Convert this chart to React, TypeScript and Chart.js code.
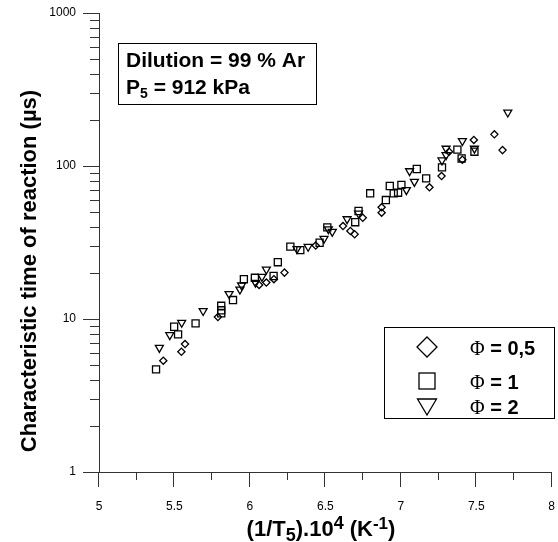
import React, { useEffect, useRef } from "react";
import { Chart, registerables } from "chart.js";

Chart.register(...registerables);

// ---- data ----
const phi05X = [5.426, 5.546, 5.57, 5.788, 6.061, 6.109, 6.159, 6.229, 6.436, 6.617, 6.666, 6.694, 6.748, 6.873, 6.873, 7.19, 7.27, 7.32, 7.408, 7.484, 7.62, 7.674];
const phi05Y = [5.34, 6.11, 6.86, 10.3, 16.7, 17.3, 18.2, 20.1, 30.2, 40.5, 37.6, 35.8, 45.9, 53.7, 49.5, 72.6, 86, 124, 110, 148, 161, 127];

const phi1X = [5.378, 5.524, 5.498, 5.64, 5.81, 5.81, 5.81, 5.888, 5.96, 6.033, 6.157, 6.185, 6.268, 6.334, 6.462, 6.513, 6.698, 6.72, 6.797, 6.901, 6.927, 6.953, 6.982, 7.004, 7.106, 7.168, 7.273, 7.375, 7.403, 7.488];
const phi1Y = [4.69, 7.94, 8.9, 9.37, 12.2, 11.4, 10.9, 13.3, 18.2, 18.6, 19.1, 23.5, 29.7, 28.2, 31.5, 39.7, 42.9, 50.8, 66.3, 59.9, 74, 66.3, 66.9, 75.2, 95.6, 83, 98, 128, 112, 124];

const phi2X = [5.4, 5.469, 5.548, 5.69, 5.862, 5.934, 5.945, 6.037, 6.08, 6.109, 6.312, 6.386, 6.491, 6.52, 6.546, 6.644, 6.72, 7.037, 7.058, 7.09, 7.273, 7.3, 7.3, 7.408, 7.488, 7.709];
const phi2Y = [6.49, 7.86, 9.46, 11.3, 14.6, 15.6, 16.6, 17.3, 18.9, 21.1, 28.7, 29.7, 33.5, 38.7, 37.2, 45, 49, 69.7, 92.7, 78.9, 109, 118, 130, 146, 130, 224];

const seriesValueLabels = ["0,5", "1", "2"];
const seriesLabels = seriesValueLabels.map((v) => "Φ = " + v);
const xTickValues = [5, 5.5, 6, 6.5, 7, 7.5, 8];
const xTickLabels = ["5", "5.5", "6", "6.5", "7", "7.5", "8"];
const xMinorValues = [5.25, 5.75, 6.25, 6.75, 7.25, 7.75];
const yTickValues = [1, 10, 100, 1000];
const yTickLabels = ["1", "10", "100", "1000"];
const yMinorMultipliers = [2, 3, 4, 5, 6, 7, 8, 9];

const FONT = "'Liberation Sans', Arial, Helvetica, sans-serif";
const SERIF = "'Liberation Serif', 'Times New Roman', serif";
const AXIS_COLOR = "#333";

function toPoints(xs: number[], ys: number[]) {
  return xs.map((x, i) => ({ x, y: ys[i] }));
}

type Run = { t: string; size: number; dy: number; font?: string };

function drawRuns(ctx: CanvasRenderingContext2D, runs: Run[], x: number, y: number, align: "left" | "center") {
  const f = (r: Run) => r.font ?? `bold ${r.size}px ${FONT}`;
  let total = 0;
  for (const r of runs) {
    ctx.font = f(r);
    total += ctx.measureText(r.t).width;
  }
  let cx = align === "center" ? x - total / 2 : x;
  ctx.textAlign = "left";
  ctx.textBaseline = "alphabetic";
  for (const r of runs) {
    ctx.font = f(r);
    ctx.fillText(r.t, cx, y + r.dy);
    cx += ctx.measureText(r.t).width;
  }
}

const overlay = {
  id: "overlay",
  afterDraw(chart: any) {
    const ctx: CanvasRenderingContext2D = chart.ctx;
    const xs = chart.scales.x;
    const ys = chart.scales.y;
    const { left, bottom } = chart.chartArea;
    ctx.save();
    ctx.strokeStyle = AXIS_COLOR;
    ctx.lineWidth = 1;
    ctx.beginPath();
    for (const v of xTickValues) {
      const p = Math.round(xs.getPixelForValue(v)) - 0.5;
      ctx.moveTo(p, bottom);
      ctx.lineTo(p, bottom + 15);
    }
    for (const v of xMinorValues) {
      const p = Math.round(xs.getPixelForValue(v)) - 0.5;
      ctx.moveTo(p, bottom);
      ctx.lineTo(p, bottom + 8);
    }
    for (const v of yTickValues) {
      const p = Math.round(ys.getPixelForValue(v)) + 0.5;
      ctx.moveTo(left - 16, p);
      ctx.lineTo(left, p);
      if (v < 1000) {
        for (const m of yMinorMultipliers) {
          const q = Math.round(ys.getPixelForValue(v * m)) + 0.5;
          ctx.moveTo(left - 9, q);
          ctx.lineTo(left, q);
        }
      }
    }
    ctx.stroke();

    ctx.fillStyle = "#000";
    // x axis title
    drawRuns(
      ctx,
      [
        { t: "(1/T", size: 22, dy: 0 },
        { t: "5", size: 18, dy: 5 },
        { t: ").10", size: 22, dy: 0 },
        { t: "4", size: 18, dy: -7 },
        { t: " (K", size: 22, dy: 0 },
        { t: "-1", size: 17, dy: -7 },
        { t: ")", size: 22, dy: 0 },
      ],
      321,
      536,
      "center"
    );

    // y axis title
    ctx.save();
    ctx.translate(30, 271);
    ctx.rotate(-Math.PI / 2);
    ctx.font = `bold 22px ${FONT}`;
    ctx.textAlign = "center";
    ctx.textBaseline = "middle";
    ctx.fillText("Characteristic time of reaction (µs)", 0, 0);
    ctx.restore();

    // annotation box
    ctx.strokeStyle = "#000";
    ctx.lineWidth = 1;
    ctx.strokeRect(118.5, 43.5, 198, 61);
    drawRuns(ctx, [{ t: "Dilution = 99 % Ar", size: 21, dy: 0 }], 126, 67, "left");
    drawRuns(
      ctx,
      [
        { t: "P", size: 21, dy: 0 },
        { t: "5", size: 14, dy: 4 },
        { t: " = 912 kPa", size: 21, dy: 0 },
      ],
      126,
      94,
      "left"
    );

    // legend box
    ctx.strokeRect(384.5, 327.5, 170, 91);
    ctx.lineWidth = 1.3;
    const mx = 427;
    const rows = [347, 381, 406];
    // diamond
    ctx.beginPath();
    ctx.moveTo(mx - 10, rows[0]);
    ctx.lineTo(mx, rows[0] - 10);
    ctx.lineTo(mx + 10, rows[0]);
    ctx.lineTo(mx, rows[0] + 10);
    ctx.closePath();
    ctx.stroke();
    // square
    ctx.strokeRect(mx - 8, rows[1] - 8, 16, 16);
    // down triangle
    ctx.beginPath();
    ctx.moveTo(mx - 9.5, rows[2] - 7);
    ctx.lineTo(mx + 9.5, rows[2] - 7);
    ctx.lineTo(mx, rows[2] + 9);
    ctx.closePath();
    ctx.stroke();
    for (let i = 0; i < seriesValueLabels.length; i++) {
      drawRuns(
        ctx,
        [
          { t: "Φ", size: 20, dy: 0, font: `20px ${SERIF}` },
          { t: " = " + seriesValueLabels[i], size: 20, dy: 0 },
        ],
        470,
        rows[i] + 8,
        "left"
      );
    }
    ctx.restore();
  },
};

export default function App() {
  const ref = useRef<HTMLCanvasElement | null>(null);
  useEffect(() => {
    document.body.style.margin = "0";
    const canvas = ref.current!;
    const common = {
      showLine: false,
      borderColor: "#000",
      pointBorderColor: "#000",
      pointBackgroundColor: "rgba(0,0,0,0)",
      pointBorderWidth: 1.3,
      pointHoverRadius: 5,
    };
    const chart = new Chart(canvas, {
      type: "scatter",
      data: {
        datasets: [
          { ...common, label: seriesLabels[0], data: toPoints(phi05X, phi05Y), pointStyle: "rectRot", pointRadius: 3.6 },
          { ...common, label: seriesLabels[1], data: toPoints(phi1X, phi1Y), pointStyle: "rect", pointRadius: 5 },
          { ...common, label: seriesLabels[2], data: toPoints(phi2X, phi2Y), pointStyle: "triangle", rotation: 180, pointRadius: 4.6 },
        ],
      },
      options: {
        animation: false,
        responsive: false,
        devicePixelRatio: 1,
        layout: { padding: { top: 13, right: 1, left: 0, bottom: 0 } },
        plugins: { legend: { display: false }, tooltip: { enabled: false } },
        scales: {
          x: {
            type: "linear",
            min: 5,
            max: 8,
            afterBuildTicks: (s: any) => {
              s.ticks = xTickValues.map((v) => ({ value: v }));
            },
            afterFit: (s: any) => {
              s.height = 70;
              s.paddingLeft = 0;
              s.paddingRight = 0;
            },
            ticks: {
              autoSkip: false,
              maxRotation: 0,
              padding: 27,
              color: "#000",
              font: { family: FONT, size: 12 },
              callback: (v: any) => {
                const i = xTickValues.indexOf(Number(v));
                return i >= 0 ? xTickLabels[i] : "";
              },
            },
            grid: { display: true, drawOnChartArea: false, drawTicks: false, color: "transparent" },
            border: { display: true, color: AXIS_COLOR, width: 1 },
          },
          y: {
            type: "logarithmic",
            min: 1,
            max: 1000,
            afterBuildTicks: (s: any) => {
              s.ticks = yTickValues.map((v) => ({ value: v }));
            },
            afterFit: (s: any) => {
              s.width = 99;
              s.paddingTop = 0;
              s.paddingBottom = 0;
            },
            ticks: {
              autoSkip: false,
              padding: 23,
              color: "#000",
              font: { family: FONT, size: 12 },
              callback: (v: any) => {
                const i = yTickValues.indexOf(Number(v));
                return i >= 0 ? yTickLabels[i] : "";
              },
            },
            grid: { display: true, drawOnChartArea: false, drawTicks: false, color: "transparent" },
            border: { display: true, color: AXIS_COLOR, width: 1 },
          },
        },
      },
      plugins: [overlay],
    } as any);
    return () => chart.destroy();
  }, []);
  return (
    <div style={{ position: "absolute", left: 0, top: 0, width: 558, height: 542 }}>
      <canvas ref={ref} width={558} height={542} style={{ width: 558, height: 542, display: "block" }} />
    </div>
  );
}
